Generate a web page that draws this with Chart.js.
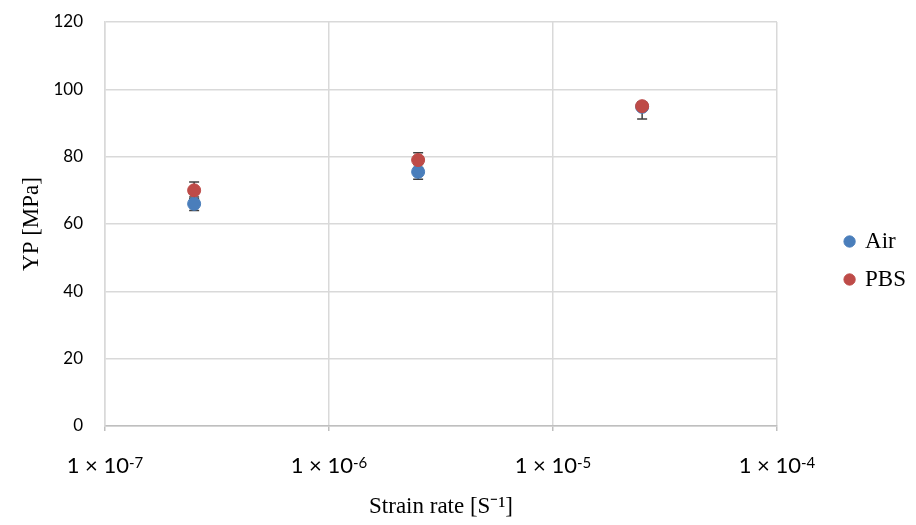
<!DOCTYPE html>
<html>
<head>
<meta charset="utf-8">
<script src="https://cdn.jsdelivr.net/npm/chart.js@4.4.1/dist/chart.umd.min.js"></script>
<style>
  html, body { margin: 0; padding: 0; background: #fff; }
  #wrap { width: 916px; height: 525px; }
</style>
</head>
<body>
<div id="wrap"><canvas id="myChart" width="916" height="525"></canvas></div>
<script>
// Data
const strainRates = [2.5e-7, 2.5e-6, 2.5e-5];
const airYP = [66, 75.5, 94.8];
const airErrLow = [2.0, 2.2, 3.6];
const airErrHigh = [2.0, 2.2, 1.4];
const pbsYP = [70, 79, 95];
const pbsErrLow = [2.5, 2.2, 1.2];
const pbsErrHigh = [2.5, 2.2, 1.2];
const xTicks = [1e-7, 1e-6, 1e-5, 1e-4];
const yTicks = [0, 20, 40, 60, 80, 100, 120];

const tickFont = 'Lato, sans-serif';
const titleFont = '"Liberation Serif", serif';

// error bars, drawn under the markers
const errorBars = {
  id: 'errorBars',
  beforeDatasetsDraw(chart) {
    const ctx = chart.ctx;
    const x = chart.scales.x, y = chart.scales.y;
    const sets = [[airYP, airErrLow, airErrHigh], [pbsYP, pbsErrLow, pbsErrHigh]];
    ctx.save();
    ctx.strokeStyle = '#404040';
    ctx.lineWidth = 1.5;
    sets.forEach(([vals, lo, hi]) => {
      vals.forEach((v, i) => {
        const px = x.getPixelForValue(strainRates[i]);
        const top = y.getPixelForValue(v + hi[i]);
        const bot = y.getPixelForValue(v - lo[i]);
        ctx.beginPath();
        ctx.moveTo(px, top); ctx.lineTo(px, bot);
        ctx.moveTo(px - 5, top); ctx.lineTo(px + 5, top);
        ctx.moveTo(px - 5, bot); ctx.lineTo(px + 5, bot);
        ctx.stroke();
      });
    });
    ctx.restore();
  }
};

// x tick labels as "1 × 10" with a raised exponent
const powerLabels = {
  id: 'powerLabels',
  afterDraw(chart) {
    const ctx = chart.ctx;
    const x = chart.scales.x;
    ctx.save();
    ctx.fillStyle = '#000';
    ctx.textBaseline = 'alphabetic';
    ctx.textAlign = 'left';
    xTicks.forEach(v => {
      const base = '1 \u00D7 10';
      const exp = String(Math.round(Math.log10(v)));
      ctx.font = '22px ' + tickFont;
      const wb = ctx.measureText(base).width;
      ctx.font = '15px ' + tickFont;
      const we = ctx.measureText(exp).width;
      const px = x.getPixelForValue(v) - (wb + we) / 2;
      const py = x.top + 47;
      ctx.font = '22px ' + tickFont;
      ctx.fillText(base, px, py);
      ctx.font = '15px ' + tickFont;
      ctx.fillText(exp, px + wb, py - 5);
    });
    ctx.restore();
  }
};

// keep the legend against the right edge of the canvas
const legendRight = {
  id: 'legendRight',
  afterLayout(chart) {
    const lg = chart.legend;
    const dx = chart.width - lg.right;
    lg.left += dx;
    lg.right += dx;
  }
};

const ctx = document.getElementById('myChart');
const myChart = new Chart(ctx, {
  type: 'scatter',
  data: {
    datasets: [{
      label: 'Air',
      data: strainRates.map((x, i) => ({ x: x, y: airYP[i] })),
      backgroundColor: '#4a7ebb',
      borderColor: '#4a7ebb',
      pointRadius: 6.5,
      pointHoverRadius: 6.5,
      order: 2
    }, {
      label: 'PBS',
      data: strainRates.map((x, i) => ({ x: x, y: pbsYP[i] })),
      backgroundColor: '#be4b48',
      borderColor: '#be4b48',
      pointRadius: 6.5,
      pointHoverRadius: 6.5,
      order: 1
    }]
  },
  plugins: [errorBars, powerLabels, legendRight],
  options: {
    responsive: false,
    animation: false,
    layout: { padding: { left: 18, right: 0, top: 0, bottom: 4 } },
    plugins: {
      tooltip: { enabled: false },
      legend: {
        position: 'right',
        reverse: true,
        labels: {
          usePointStyle: true,
          pointStyle: 'circle',
          boxWidth: 8,
          boxHeight: 8,
          padding: 15,
          color: '#000',
          font: { family: titleFont, size: 23 }
        }
      }
    },
    scales: {
      x: {
        type: 'logarithmic',
        min: 1e-7,
        max: 1e-4,
        afterBuildTicks(scale) {
          scale.ticks = xTicks.map(v => ({ value: v, major: true }));
        },
        afterFit(scale) {
          scale.height = 95;
          scale.paddingLeft = 0;
          scale.paddingRight = 139;
        },
        ticks: { display: false },
        grid: { color: '#d9d9d9', lineWidth: 1.5, tickLength: 5, tickColor: '#bfbfbf' },
        border: { color: '#bfbfbf', width: 1.5 },
        title: {
          display: true,
          text: 'Strain rate [S\u207B\u00B9]',
          color: '#000',
          padding: { top: 0, bottom: 0 },
          font: { family: titleFont, size: 23 }
        }
      },
      y: {
        min: 0,
        max: 120,
        afterBuildTicks(scale) {
          scale.ticks = yTicks.map(v => ({ value: v }));
        },
        afterFit(scale) {
          scale.width = 87;
          scale.paddingTop = 22;
        },
        ticks: {
          color: '#000',
          padding: 22,
          font: { family: tickFont, size: 17 }
        },
        grid: { color: '#d9d9d9', lineWidth: 1.5, drawTicks: false },
        border: { color: '#d9d9d9', width: 1.5 },
        title: {
          display: true,
          text: 'YP [MPa]',
          color: '#000',
          padding: { top: 0, bottom: 0 },
          font: { family: titleFont, size: 23 }
        }
      }
    }
  }
});
</script>
</body>
</html>
